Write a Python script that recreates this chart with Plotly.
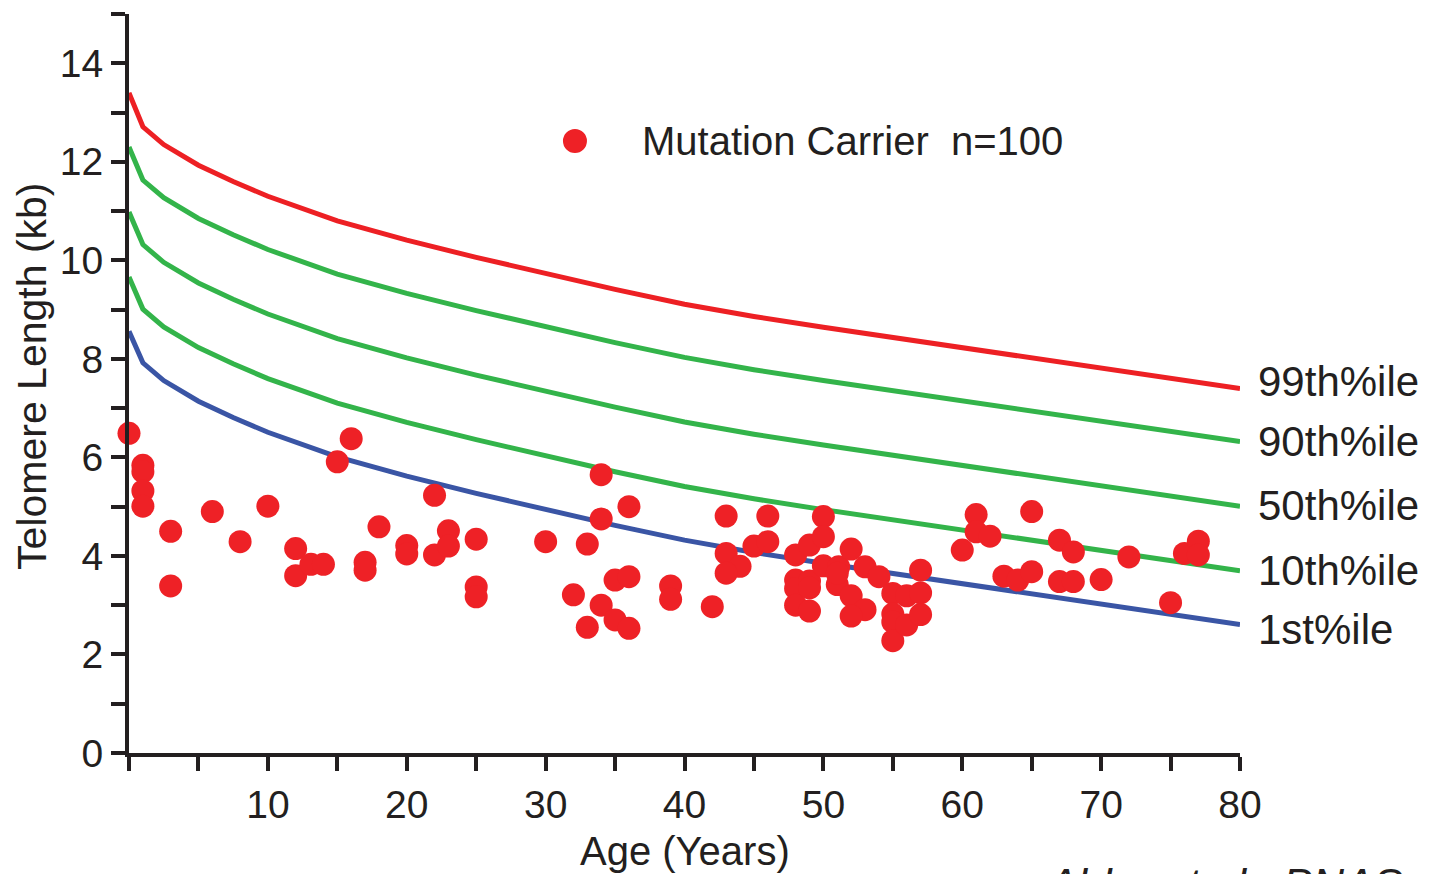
import plotly.graph_objects as go

# ---- Data ----
curve_ages = [0, 1, 2.5, 5, 7.5, 10, 15, 20, 25, 30, 35, 40, 45, 50, 60, 70, 80]
p99 = [13.40, 12.71, 12.35, 11.93, 11.60, 11.30, 10.80, 10.41, 10.06, 9.73, 9.41, 9.11, 8.86, 8.64, 8.23, 7.82, 7.40]
p90 = [12.30, 11.63, 11.27, 10.85, 10.52, 10.22, 9.72, 9.33, 8.98, 8.65, 8.33, 8.03, 7.78, 7.56, 7.15, 6.74, 6.32]
p50 = [10.98, 10.32, 9.96, 9.54, 9.21, 8.91, 8.41, 8.02, 7.67, 7.34, 7.02, 6.72, 6.47, 6.25, 5.84, 5.43, 5.01]
p10 = [9.66, 9.01, 8.65, 8.23, 7.90, 7.60, 7.10, 6.71, 6.36, 6.03, 5.71, 5.41, 5.16, 4.94, 4.53, 4.12, 3.70]
p1 = [8.56, 7.92, 7.56, 7.14, 6.81, 6.51, 6.01, 5.62, 5.27, 4.94, 4.62, 4.32, 4.07, 3.85, 3.44, 3.03, 2.61]

carrier_age = [0, 1, 1, 1, 1, 3, 3, 6, 8, 10, 12, 12, 13.1, 14, 15, 16, 17, 17, 18, 20, 20, 22, 22, 23, 23, 25, 25, 25, 30,
               34, 36, 34, 33, 32, 34, 33, 35, 36, 35, 36, 39, 39, 42, 43, 43, 44, 43, 45, 46, 46, 48, 48, 48, 48, 49, 49, 49,
               50, 50, 50, 51.1, 51, 52, 53, 52, 53, 52, 54, 55, 55, 55, 55, 56, 56, 57, 57, 57,
               60, 61, 61, 62, 63, 64, 65, 65, 67, 68, 67, 68, 70, 72, 75, 76, 77, 77, 51, 49]
carrier_tl = [6.49, 5.84, 5.71, 5.32, 5.01, 4.50, 3.39, 4.90, 4.29, 5.01, 4.15, 3.60, 3.83, 3.83, 5.91, 6.38, 3.87, 3.71, 4.59,
              4.21, 4.04, 5.23, 4.02, 4.51, 4.20, 4.34, 3.37, 3.17, 4.29,
              5.65, 5.00, 4.75, 4.24, 3.21, 3.00, 2.55, 3.51, 3.58, 2.70, 2.53, 3.39, 3.12, 2.97, 4.81, 4.05, 3.79, 3.65,
              4.20, 4.81, 4.29, 4.02, 3.51, 3.34, 3.00, 3.49, 2.88, 4.22,
              4.80, 4.39, 3.80, 3.78, 3.42, 4.14, 3.78, 3.19, 2.91, 2.78, 3.58, 3.24, 2.82, 2.66, 2.28, 3.19, 2.60, 3.71, 3.25, 2.81,
              4.12, 4.84, 4.49, 4.40, 3.59, 3.51, 3.68, 4.90, 4.32, 4.08, 3.48, 3.48, 3.52, 3.98, 3.05, 4.05, 4.30, 4.02, 3.65, 3.35]

curve_names = ["99th%ile", "90th%ile", "50th%ile", "10th%ile", "1st%ile"]
curve_vals = [p99, p90, p50, p10, p1]
curve_colors = ["#ED2024", "#33B44A", "#33B44A", "#33B44A", "#3A55A5"]
label_yshift = [7, 0, 1, 0, -5]

x_tickvals = list(range(0, 81, 5))
x_ticktext = [str(v) if (v % 10 == 0 and v > 0) else "" for v in x_tickvals]
y_tickvals = list(range(0, 16))
y_ticktext = [str(v) if (v % 2 == 0 and v <= 14) else "" for v in y_tickvals]

FONT = "Liberation Sans, Arial, sans-serif"
INK = "#231F20"

fig = go.Figure()
for name, vals, col in zip(curve_names, curve_vals, curve_colors):
    fig.add_trace(go.Scatter(x=curve_ages, y=vals, mode="lines", name=name,
                             line=dict(color=col, width=5), showlegend=False,
                             cliponaxis=False))

fig.add_trace(go.Scatter(x=carrier_age, y=carrier_tl, mode="markers",
                         name="Mutation Carrier  n=100",
                         marker=dict(color="#EE2126", size=23, line=dict(width=0)),
                         showlegend=False, cliponaxis=False))

# percentile labels at line ends
for name, vals, ys in zip(curve_names, curve_vals, label_yshift):
    fig.add_annotation(x=curve_ages[-1], y=vals[-1], text=name, showarrow=False,
                       xanchor="left", yanchor="middle", xshift=16, yshift=ys,
                       font=dict(family=FONT, size=42, color=INK))

# legend (dot + text)
fig.add_shape(type="circle", xref="paper", yref="paper",
              xsizemode="pixel", ysizemode="pixel",
              xanchor=0.4014, yanchor=0.8281, x0=-12, x1=12, y0=-12, y1=12,
              fillcolor="#EE2126", line=dict(width=0))
fig.add_annotation(xref="paper", yref="paper", x=0.4599, y=0.8281,
                   text="Mutation Carrier\u00a0\u00a0n=100", showarrow=False,
                   xanchor="left", yanchor="middle",
                   font=dict(family=FONT, size=40, color=INK))

# axis titles
fig.add_annotation(xref="paper", yref="paper", x=0.5005, y=-0.1326,
                   text="Age (Years)", showarrow=False, xanchor="center", yanchor="middle",
                   font=dict(family=FONT, size=40, color=INK))
fig.add_annotation(xref="paper", yref="paper", x=-0.0875, y=0.510,
                   text="Telomere Length (kb)", showarrow=False, textangle=-90,
                   xanchor="center", yanchor="middle",
                   font=dict(family=FONT, size=41, color=INK))
# citation (cut off at bottom in the reference)
fig.add_annotation(xref="paper", yref="paper", x=0.823, y=-0.178,
                   text="<i>Alder et al., PNAS</i>", showarrow=False,
                   xanchor="left", yanchor="middle",
                   font=dict(family=FONT, size=44, color=INK))

# the page body adds an 8px offset, so margins compensate for it
fig.update_layout(
    width=1429, height=874,
    margin=dict(l=121, r=197, t=6, b=129, autoexpand=False),
    paper_bgcolor="white", plot_bgcolor="white",
    font=dict(family=FONT, color=INK),
    xaxis=dict(range=[0, 80], showgrid=False, zeroline=False,
               showline=True, linecolor=INK, linewidth=4,
               ticks="outside", ticklen=14, tickwidth=3.5, tickcolor=INK,
               tickmode="array", tickvals=x_tickvals, ticktext=x_ticktext,
               tickfont=dict(family=FONT, size=39, color=INK)),
    yaxis=dict(range=[0, 15], showgrid=False, zeroline=False,
               showline=True, linecolor=INK, linewidth=4,
               ticks="outside", ticklen=14, tickwidth=3.5, tickcolor=INK,
               tickmode="array", tickvals=y_tickvals, ticktext=y_ticktext,
               tickfont=dict(family=FONT, size=39, color=INK)),
)

fig.write_html("out.html")
